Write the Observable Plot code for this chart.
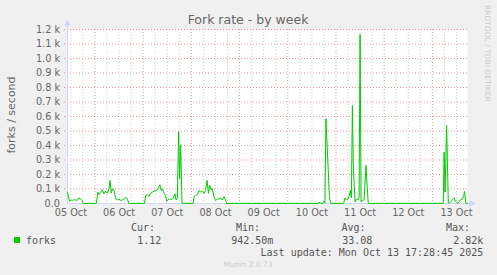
<!DOCTYPE html>
<html><head><meta charset="utf-8">
<script src="https://cdn.jsdelivr.net/npm/d3@7"></script>
<script src="https://cdn.jsdelivr.net/npm/@observablehq/plot@0.6"></script>
<style>
html,body{margin:0;padding:0;background:#f0f0f0;}
#chart svg{display:block;}
</style></head><body><div id="chart"></div>
<script>
// ---- data (UTC times, forks per second) ----
const times = [
 "2025-10-05T10:20","2025-10-05T10:50","2025-10-05T11:20","2025-10-05T12:00","2025-10-05T12:45","2025-10-05T13:45","2025-10-05T14:30","2025-10-05T15:15","2025-10-05T16:00","2025-10-05T16:50","2025-10-05T17:40","2025-10-05T18:10",
 "2025-10-06T00:40","2025-10-06T01:30","2025-10-06T02:00","2025-10-06T02:50","2025-10-06T03:40","2025-10-06T04:30","2025-10-06T05:20","2025-10-06T06:10","2025-10-06T07:00","2025-10-06T07:30","2025-10-06T08:10","2025-10-06T08:40","2025-10-06T09:30","2025-10-06T10:20","2025-10-06T11:10","2025-10-06T12:00","2025-10-06T12:50","2025-10-06T13:40","2025-10-06T14:30","2025-10-06T15:20","2025-10-06T16:10","2025-10-06T16:50",
 "2025-10-07T00:40","2025-10-07T01:15","2025-10-07T02:05","2025-10-07T02:55","2025-10-07T03:45","2025-10-07T04:35","2025-10-07T05:25","2025-10-07T06:15","2025-10-07T07:05","2025-10-07T07:50","2025-10-07T08:20","2025-10-07T09:05","2025-10-07T09:35","2025-10-07T10:25","2025-10-07T11:10","2025-10-07T11:40","2025-10-07T12:20","2025-10-07T13:10","2025-10-07T14:10","2025-10-07T15:00","2025-10-07T15:50","2025-10-07T16:20","2025-10-07T17:00","2025-10-07T17:40","2025-10-07T18:10","2025-10-07T18:40","2025-10-07T19:20",
 "2025-10-08T00:55","2025-10-08T01:20","2025-10-08T02:10","2025-10-08T03:00","2025-10-08T03:50","2025-10-08T04:40","2025-10-08T05:30","2025-10-08T06:20","2025-10-08T07:05","2025-10-08T07:50","2025-10-08T08:30","2025-10-08T09:10","2025-10-08T09:50","2025-10-08T10:30","2025-10-08T11:15","2025-10-08T12:05","2025-10-08T13:00","2025-10-08T13:45","2025-10-08T14:35","2025-10-08T15:25","2025-10-08T16:15","2025-10-08T17:05","2025-10-08T17:35",
 "2025-10-10T15:30","2025-10-10T15:55","2025-10-10T16:25","2025-10-10T17:30","2025-10-10T18:00","2025-10-10T18:30","2025-10-10T19:00","2025-10-10T19:55","2025-10-10T20:45","2025-10-10T21:25",
 "2025-10-11T03:50","2025-10-11T04:30","2025-10-11T05:10","2025-10-11T06:00","2025-10-11T06:40","2025-10-11T07:10","2025-10-11T07:40","2025-10-11T08:10","2025-10-11T08:40","2025-10-11T09:30","2025-10-11T10:10","2025-10-11T11:00","2025-10-11T11:30","2025-10-11T12:00","2025-10-11T12:30","2025-10-11T13:10","2025-10-11T14:00","2025-10-11T14:55","2025-10-11T15:30","2025-10-11T16:05",
 "2025-10-13T05:25","2025-10-13T05:50","2025-10-13T06:20","2025-10-13T07:05","2025-10-13T07:55","2025-10-13T08:35","2025-10-13T09:30","2025-10-13T10:20","2025-10-13T10:50","2025-10-13T11:25","2025-10-13T12:30","2025-10-13T13:10","2025-10-13T13:55","2025-10-13T14:55","2025-10-13T15:30","2025-10-13T16:00","2025-10-13T16:40","2025-10-13T17:25"
];
const forks = [
 78,45,15,25,22,26,24,22,39,30,20,1,
 1,78,62,78,94,67,85,71,101,159,71,101,90,32,25,30,21,25,32,44,30,1,
 1,55,62,48,71,78,85,90,94,113,129,90,101,71,55,16,25,32,28,37,67,25,32,495,170,405,1,
 1,48,55,62,90,78,85,71,90,159,71,124,94,101,44,21,32,30,39,25,48,21,1,
 1,10,1,1,16,5,585,300,40,1,
 1,39,25,30,55,90,40,676,250,10,30,25,40,1166,10,20,25,262,120,1,
 1,354,78,538,5,5,16,32,39,16,1,8,25,30,48,83,1,1
];
const rangeStart = "2025-10-05T10:20";
const rangeEnd = "2025-10-13T17:28:45";
const yTicks = [0,100,200,300,400,500,600,700,800,900,1000,1100,1200];
const yTickLabels = ["0.0","0.1 k","0.2 k","0.3 k","0.4 k","0.5 k","0.6 k","0.7 k","0.8 k","0.9 k","1.0 k","1.1 k","1.2 k"];
const xTickDates = ["2025-10-05T12:00","2025-10-06T12:00","2025-10-07T12:00","2025-10-08T12:00","2025-10-09T12:00","2025-10-10T12:00","2025-10-11T12:00","2025-10-12T12:00","2025-10-13T12:00"];
const xTickLabels = ["05 Oct","06 Oct","07 Oct","08 Oct","09 Oct","10 Oct","11 Oct","12 Oct","13 Oct"];
const titleText = "Fork rate - by week";
const yLabel = "forks / second";
const seriesName = "forks";
const statLabels = ["Cur:","Min:","Avg:","Max:"];
const statValues = ["1.12","942.50m","33.08","2.82k"];
const lastUpdate = "Last update: Mon Oct 13 17:28:45 2025";
const watermark = "Munin 2.0.73";
const logo = "RRDTOOL / TOBI OETIKER";

// ---- build ----
const P = s => new Date(s + (s.length === 16 ? ":00Z" : "Z"));
const data = times.map((t, i) => ({t: P(t), v: forks[i]}));
const start = P(rangeStart), end = P(rangeEnd);
const days = d3.utcDay.range(d3.utcDay.ceil(start), end);
const sixH = d3.utcHour.every(6).range(start, end).filter(d => d.getUTCHours() !== 0);
const xt = xTickDates.map(P);
const xLabelOf = new Map(xt.map((d, i) => [+d, xTickLabels[i]]));
const yLabelOf = new Map(yTicks.map((d, i) => [d, yTickLabels[i]]));

const W = 497, H = 275;
const RED = "#de3030", AX = "#CFD6F8", FONT = "#666666";
const plot = Plot.plot({
  width: W, height: H,
  marginLeft: 67, marginRight: 30, marginTop: 29, marginBottom: 72,
  style: {background: "#f0f0f0", fontFamily: "'DejaVu Sans', sans-serif", fontSize: "9.7px", color: FONT, overflow: "visible"},
  x: {type: "utc", domain: [start, end]},
  y: {domain: [0, 1200]},
  marks: [
    Plot.frame({fill: "white", stroke: null}),
    Plot.ruleX(sixH, {stroke: "#8f8f8f", strokeOpacity: 0.45, strokeDasharray: "1,2"}),
    Plot.ruleY(yTicks.slice(1), {stroke: RED, strokeOpacity: 0.5, strokeDasharray: "1,2", insetLeft: -3, insetRight: -2}),
    Plot.ruleX(days, {stroke: RED, strokeOpacity: 0.5, strokeDasharray: "1,2", insetBottom: -3}),
    Plot.axisX(xt, {tickSize: 0, tickPadding: 6, tickFormat: d => xLabelOf.get(+d), fill: FONT, fontSize: 9.7, label: null}),
    Plot.axisY(yTicks, {tickSize: 0, tickPadding: 7.5, tickFormat: d => yLabelOf.get(d), fill: FONT, fontSize: 9.7, label: null}),
    Plot.ruleX([start], {stroke: AX, insetTop: -3}),
    Plot.ruleY([0], {stroke: AX, insetRight: -4}),
    Plot.dot([0], {frameAnchor: "top-left", symbol: "triangle", r: 2.6, fill: AX, stroke: null, dy: -6}),
    Plot.dot([0], {frameAnchor: "bottom-right", symbol: "triangle", r: 2.6, fill: AX, stroke: null, dx: 4, rotate: 90}),
    Plot.line(data, {x: "t", y: "v", stroke: "#00cc00", strokeWidth: 1})
  ]
});
document.getElementById("chart").appendChild(plot);

const svg = d3.select(plot);
const txt = (x, y, s, o = {}) => svg.append("text")
  .attr("x", x).attr("y", y).text(s)
  .attr("fill", o.fill || FONT)
  .attr("font-family", o.mono ? "'DejaVu Sans Mono', monospace" : "'DejaVu Sans', sans-serif")
  .attr("font-size", o.size || 10)
  .attr("text-anchor", o.anchor || "start")
  .attr("transform", o.transform || null);

txt(248, 23.5, titleText, {size: 12.5, anchor: "middle"});
txt(0, 0, yLabel, {size: 11, anchor: "middle", transform: "translate(15,115) rotate(-90)"});
txt(0, 0, logo, {size: 7.5, anchor: "start", fill: "#cccccc", transform: "translate(484.5,5) rotate(90)"});

// legend
svg.append("rect").attr("x", 14).attr("y", 237).attr("width", 6).attr("height", 6).attr("fill", "#00cc00");
const LEG = "#555555";
txt(26, 243.5, seriesName, {mono: true, fill: LEG});
const labelX = [131, 236, 341.5, 446];
const valueEnd = [161.3, 273.3, 372.3, 483.3];
statLabels.forEach((s, i) => txt(labelX[i], 231, s, {mono: true, fill: LEG}));
statValues.forEach((s, i) => txt(valueEnd[i], 243.5, s, {mono: true, fill: LEG, anchor: "end"}));
txt(483.3, 255.5, lastUpdate, {mono: true, fill: LEG, anchor: "end"});
txt(248, 266.5, watermark, {size: 7.5, anchor: "middle", fill: "#cccccc"});
</script>
</body></html>
